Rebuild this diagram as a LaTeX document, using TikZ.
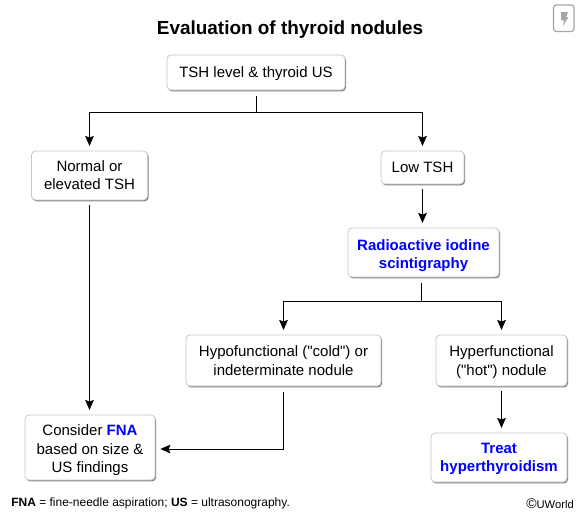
\documentclass[tikz,border=0pt]{standalone}
\usepackage{fontspec}
\setmainfont{Liberation Sans}
\newfontfamily\plainquotes{Liberation Sans}
\usetikzlibrary{shadows,arrows.meta}
\definecolor{uwblue}{RGB}{0,0,255}
\tikzset{
  x=0.75pt,y=-0.75pt,
  box/.style={draw=black!22,line width=0.6pt,fill=white,rounded corners=3pt,
    font=\fontsize{11.25pt}{13.9pt}\selectfont,inner sep=0pt,
    drop shadow={shadow xshift=0.8pt,shadow yshift=-1pt,fill=black,opacity=0.5}},
  link/.style={draw=black,line width=0.75pt},
  arrow/.style={link,-{Stealth[length=7.5pt,width=6.5pt,inset=1.2pt]}}
}
\newcommand{\hl}[1]{\textbf{\textcolor{uwblue}{#1}}}
% name, x, y, width, height, text, downward text offset (px)
\newcommand{\boxat}[7]{\node[box,minimum width=#4*0.75pt,minimum height=#5*0.75pt] (#1) at (#2,#3) {\parbox{\dimexpr#4pt*3/4\relax}{\centering\vspace*{\dimexpr#7pt*3/2\relax}#6}};}
\begin{document}
\begin{tikzpicture}
\useasboundingbox (0,0) rectangle (580,514);
\fill[white] (0,0) rectangle (580,514);
\node[font=\fontsize{14.2pt}{17pt}\selectfont\bfseries] (title) at (290,29.5) {Evaluation of thyroid nodules};
\boxat{tsh}{256}{72.5}{178}{35}{TSH level \& thyroid US}{1.5}
\boxat{normal}{89.5}{175.5}{116}{49}{Normal or\\elevated TSH}{-0.5}
\boxat{low}{422.5}{167.5}{83}{33}{Low TSH}{0}
\boxat{radio}{423.5}{252.5}{151}{49}{\hl{Radioactive iodine}\\\hl{scintigraphy}}{3}
\boxat{hypo}{283.5}{360.5}{195}{51}{Hypofunctional ({\plainquotes"}cold{\plainquotes"}) or\\indeterminate nodule}{0}
\boxat{hyper}{501.5}{360.5}{131}{51}{Hyperfunctional\\({\plainquotes"}hot{\plainquotes"}) nodule}{1.5}
\boxat{fna}{90}{447.5}{130}{65}{Consider \hl{FNA}\\based on size \&\\US findings}{3}
\boxat{treat}{499}{457.5}{136}{49}{\hl{Treat}\\\hl{hyperthyroidism}}{1.5}
\coordinate (j1) at (256,112);
\coordinate (j2) at (421.5,301);
\coordinate (j3) at (283.5,449);
\coordinate (fnaport) at (155,449);
\draw[link,shorten <=4pt] (tsh.south) -- (j1);
\draw[arrow,shorten >=3.5pt] (j1) -| (normal.north);
\draw[arrow,shorten >=3.5pt] (j1) -| (low.north);
\draw[arrow,shorten <=3.5pt,shorten >=3.5pt] (low.south) -- (low.south |- radio.north);
\draw[link,shorten <=4pt] (radio.south -| j2) -- (j2);
\draw[arrow,shorten >=3.5pt] (j2) -| (hypo.north);
\draw[arrow,shorten >=3.5pt] (j2) -| (hyper.north);
\draw[arrow,shorten <=3.5pt,shorten >=3.5pt] (normal.south) -- (normal.south |- fna.north);
\draw[arrow,shorten <=4pt,shorten >=4pt] (hypo.south) -- (j3) -- (fnaport);
\draw[arrow,shorten <=3.5pt,shorten >=3.5pt] (hyper.south) -- (hyper.south |- treat.north);
\node[font=\fontsize{9pt}{11pt}\selectfont,anchor=west,inner sep=0pt] (note) at (11,503) {\textbf{FNA} = fine-needle aspiration; \textbf{US} = ultrasonography.};
\node[font=\fontsize{8.4pt}{10pt}\selectfont,anchor=east,inner sep=0pt] (credit) at (574,504) {{\fontsize{10.5pt}{10pt}\selectfont ©}UWorld};
\draw[black!35,line width=0.9pt,rounded corners=2pt] (553.5,5) rectangle (574,31.5);
\fill[black!35] (561,12) -- (568,12) -- (566,17) -- (568.5,17) -- (563,26) -- (564,20) -- (561,20) -- cycle;
\end{tikzpicture}
\end{document}
